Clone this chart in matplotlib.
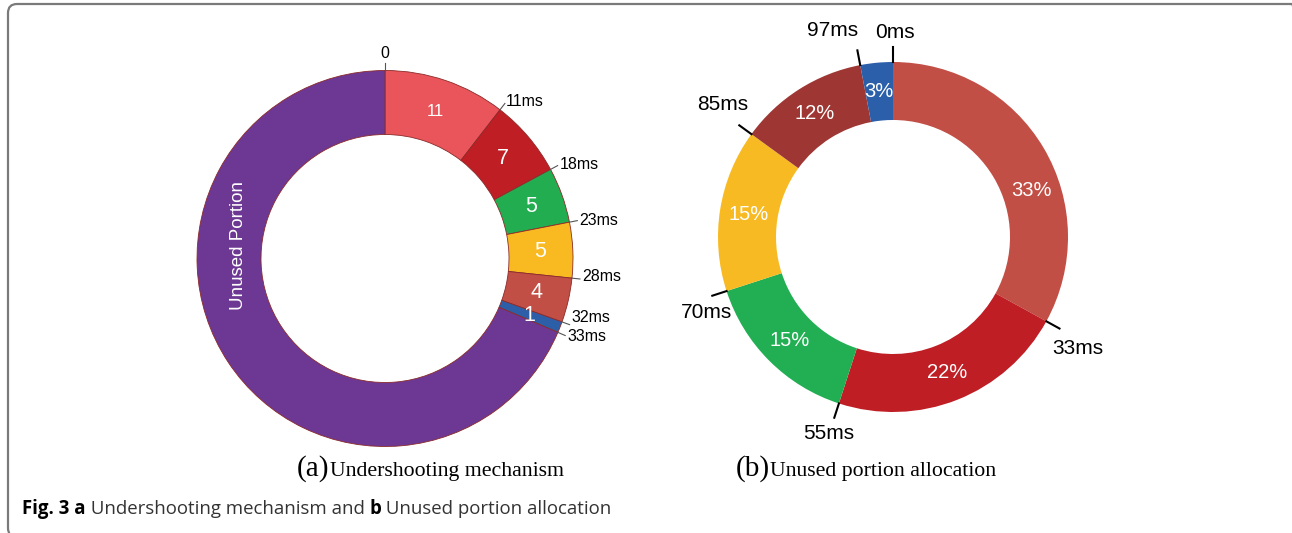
import matplotlib
matplotlib.use('Agg')
from matplotlib import pyplot as plt
from matplotlib.patches import FancyBboxPatch
import numpy as np

# (a) undershooting mechanism
a_values = [11, 7, 5, 5, 4, 1, 72]
a_labels = ['11', '7', '5', '5', '4', '1', 'Unused Portion']
a_bounds = ['0', '11ms', '18ms', '23ms', '28ms', '32ms', '33ms']
a_colors = ['#E9555A', '#BE1E24', '#22AD50', '#F8BA20', '#C24F45', '#2D5FA8', '#6C3893']

# (b) unused portion allocation
b_values = [33, 22, 15, 15, 12, 3]
b_bounds = ['33ms', '55ms', '70ms', '85ms', '97ms', '0ms']
b_colors = ['#C24F45', '#BE1E24', '#22AE52', '#F8BA22', '#9E3733', '#2C5FA9']

W, H = 1292, 533
SANS = 'Liberation Sans'
SERIF = 'Liberation Serif'

fig = plt.figure(figsize=(W / 100, H / 100), dpi=100)
ax = fig.add_axes([0, 0, 1, 1])


def polar(c, r, deg):
    t = np.deg2rad(deg)
    return c[0] + r * np.cos(t), c[1] + r * np.sin(t)


# ---- left donut ----
ca = (385, H - 258.5)
ra, wa = 188, 64
wedges_a, _ = ax.pie(a_values, colors=a_colors, startangle=90, counterclock=False,
                     center=ca, radius=ra,
                     wedgeprops=dict(width=wa, edgecolor='#8B2A2A', linewidth=0.6))

a_sizes = [12, 15.5, 15.5, 15.5, 15.5, 15.5]
for i, w in enumerate(wedges_a[:6]):
    mid = (w.theta1 + w.theta2) / 2
    x, y = polar(ca, ra - wa / 2 - 1, mid)
    ax.text(x, y, a_labels[i], color='white', fontsize=a_sizes[i], family=SANS,
            ha='center', va='center')

# unused portion label sits on the left side of the ring
x, y = polar(ca, ra - wa / 2 - 9, 175)
ax.text(x, y, a_labels[6], color='white', fontsize=13.5, family=SANS, rotation=90,
        ha='center', va='center')

# small vertical nudges (px) so the two close labels don't collide
a_nudge = [0, 0, 0, 0, -3, -8, 0]
a_angles = [wedges_a[0].theta2] + [w.theta1 for w in wedges_a[:6]]
for lab, ang, dy in zip(a_bounds, a_angles, a_nudge):
    x0, y0 = polar(ca, ra, ang)
    x1, y1 = polar(ca, ra + 8, ang)
    ax.plot([x0, x1], [y0, y1], color='#555555', lw=0.8)
    if np.sin(np.deg2rad(ang)) > 0.95:
        x2, y2 = polar(ca, ra + 9, ang)
        ax.text(x2, y2, lab, fontsize=11.5, family=SANS, ha='center', va='bottom')
    else:
        x2, y2 = polar(ca, ra + 10, ang)
        ax.text(x2, y2 - dy, lab, fontsize=11.5, family=SANS, ha='left', va='center')

# ---- right donut ----
cb = (893, H - 237)
rb, wb = 175, 58
wedges_b, _ = ax.pie(b_values, colors=b_colors, startangle=90, counterclock=False,
                     center=cb, radius=rb, wedgeprops=dict(width=wb, linewidth=0))

nudge = [-12, 0, 0, 0, 0, 0]
for i, w in enumerate(wedges_b):
    mid = (w.theta1 + w.theta2) / 2 + nudge[i]
    x, y = polar(cb, rb - wb / 2, mid)
    ax.text(x, y, f'{b_values[i]}%', color='white', fontsize=14.5, family=SANS,
            ha='center', va='center')

# label offsets (px, image coords) from the leader-line ends
b_offsets = [(18, 20), (-6, 16), (-6, 17), (-17, -21), (-25, -20), (2, -14)]
for lab, w, off in zip(b_bounds, wedges_b, b_offsets):
    x0, y0 = polar(cb, rb, w.theta1)
    x1, y1 = polar(cb, rb + 15, w.theta1)
    ax.plot([x0, x1], [y0, y1], color='black', lw=1.5)
    ax.text(x1 + off[0], y1 - off[1], lab, fontsize=15, family=SANS,
            ha='center', va='center')

ax.set_xlim(0, W)
ax.set_ylim(0, H)
ax.axis('off')

# frame (runs off the right and bottom edges like the source crop)
frame = FancyBboxPatch((8, -4), 1293, H, boxstyle='round,pad=0,rounding_size=9',
                       fill=False, edgecolor='#7A7A7A', lw=1.6)
ax.add_patch(frame)

renderer = fig.canvas.get_renderer()


def put_pieces(x, y, pieces):
    for s, kw in pieces:
        t = ax.text(x, y, s, ha='left', va='baseline', **kw)
        x += t.get_window_extent(renderer).width


put_pieces(297, H - 476, [('(a)', dict(family=SERIF, fontsize=21)),
                          ('Undershooting mechanism', dict(family=SERIF, fontsize=15.7))])
put_pieces(736, H - 476, [('(b)', dict(family=SERIF, fontsize=21)),
                          ('Unused portion allocation', dict(family=SERIF, fontsize=15.7))])

cap = dict(family='Open Sans', fontsize=13.4, color='#333333')
capb = dict(family='Open Sans', fontsize=13.4, color='black', weight='bold')
put_pieces(22, H - 514, [('Fig. 3 a', capb), (' Undershooting mechanism and ', cap),
                         ('b', capb), (' Unused portion allocation', cap)])

fig.savefig('out.png', dpi=100)
